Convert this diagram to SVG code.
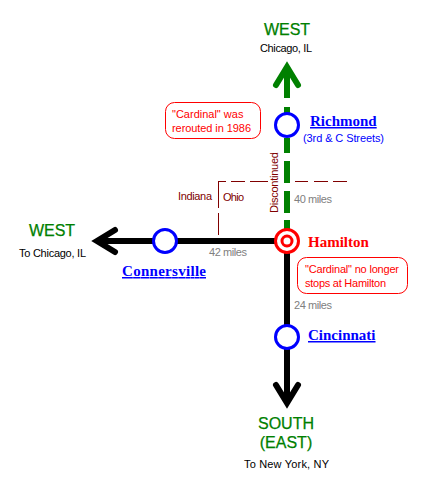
<svg xmlns="http://www.w3.org/2000/svg" width="429" height="484" viewBox="0 0 429 484">
<style>
.s{font-family:"Liberation Sans",Arial,sans-serif}
.dir{font-size:16px;fill:#008000;stroke:#008000;stroke-width:.25;font-family:"Liberation Sans",Arial,sans-serif;text-anchor:middle}
.sub{font-size:11px;fill:#000;font-family:"Liberation Sans",Arial,sans-serif;text-anchor:middle}
.mi{font-size:11px;fill:#808080;font-family:"Liberation Sans",Arial,sans-serif}
.st{font-size:15px;font-weight:bold;fill:#0000ff;font-family:"Liberation Serif","Times New Roman",serif;text-decoration:underline}
.n{font-size:11px;fill:#ff0000;font-family:"Liberation Sans",Arial,sans-serif}
.b{font-size:11px;fill:#800000;font-family:"Liberation Sans",Arial,sans-serif}
.stn{fill:#fff;stroke:#0000ff;stroke-width:3}
.call{fill:#fff;stroke:#ff0000;stroke-width:1}
</style>
<rect width="429" height="484" fill="#fff"/>
<g id="connectors" fill="none" stroke-linecap="butt">
<path d="M218.500 182V208M218.500 213V235" stroke="#800000" stroke-width="1"/>
<path d="M218 181.500H226M231 181.500H245M250 181.500H268M295 181.500H308M314 181.500H328M333 181.500H347" stroke="#800000" stroke-width="1"/>
<path d="M287 72V98M287 107V113M287 138V153M287 161V183M287 191V213M287 220V230" stroke="#008000" stroke-width="6"/>
<path d="M276 85L287 67L298 85" stroke="#008000" stroke-width="6" stroke-linecap="round"/>
<path d="M287 241H100" stroke="#000" stroke-width="6"/>
<path d="M115 230L97 241L115 252" stroke="#000" stroke-width="6" stroke-linecap="round"/>
<path d="M287 241V398" stroke="#000" stroke-width="6"/>
<path d="M276 385L287 403L298 385" stroke="#000" stroke-width="6" stroke-linecap="round"/>
</g>
<g id="west-top"><text class="dir" x="287" y="35">WEST</text><text class="sub" x="286" y="52" textLength="52">Chicago, IL</text></g>
<g id="richmond"><circle class="stn" cx="287" cy="125" r="11.500"/><text class="st" x="310" y="126">Richmond</text><text x="303" y="142" font-size="11" fill="#0000ff" class="s" textLength="81">(3rd &amp; C Streets)</text></g>
<g id="note-rerouted"><rect class="call" x="165.500" y="102.500" width="95" height="36" rx="9"/><text class="n" x="172" y="118">"Cardinal" was</text><text class="n" x="172" y="132" textLength="79">rerouted in 1986</text></g>
<g id="discontinued"><text class="b" transform="translate(278,213) rotate(-90)" textLength="61">Discontinued</text></g>
<g id="state-labels"><text class="b" x="178" y="200" textLength="34">Indiana</text><text class="b" x="223" y="201" textLength="21">Ohio</text></g>
<g id="miles"><text class="mi" x="294" y="203" textLength="38">40 miles</text><text class="mi" x="209" y="256" textLength="38">42 miles</text><text class="mi" x="294" y="309" textLength="38">24 miles</text></g>
<g id="hamilton"><circle cx="287" cy="241" r="11.500" fill="#fff" stroke="#ff0000" stroke-width="3"/><circle cx="287" cy="241" r="5" fill="#fff" stroke="#ff0000" stroke-width="3"/><text x="308" y="247" font-size="15" font-weight="bold" fill="#ff0000" font-family="'Liberation Serif',serif">Hamilton</text></g>
<g id="note-hamilton"><rect class="call" x="297.500" y="257.500" width="110" height="36" rx="9"/><text class="n" x="305" y="273" textLength="94">"Cardinal" no longer</text><text class="n" x="305" y="287" textLength="81">stops at Hamilton</text></g>
<g id="connersville"><circle class="stn" cx="165" cy="241" r="11.500"/><text class="st" x="122" y="276" textLength="84">Connersville</text></g>
<g id="west-left"><text class="dir" x="52" y="236">WEST</text><text class="sub" x="52.500" y="257" textLength="67">To Chicago, IL</text></g>
<g id="cincinnati"><circle class="stn" cx="287" cy="337" r="11.500"/><text class="st" x="308" y="340">Cincinnati</text></g>
<g id="south"><text class="dir" x="286" y="429">SOUTH</text><text class="dir" x="286" y="448">(EAST)</text><text class="sub" x="286.500" y="468" textLength="85">To New York, NY</text></g>
</svg>
